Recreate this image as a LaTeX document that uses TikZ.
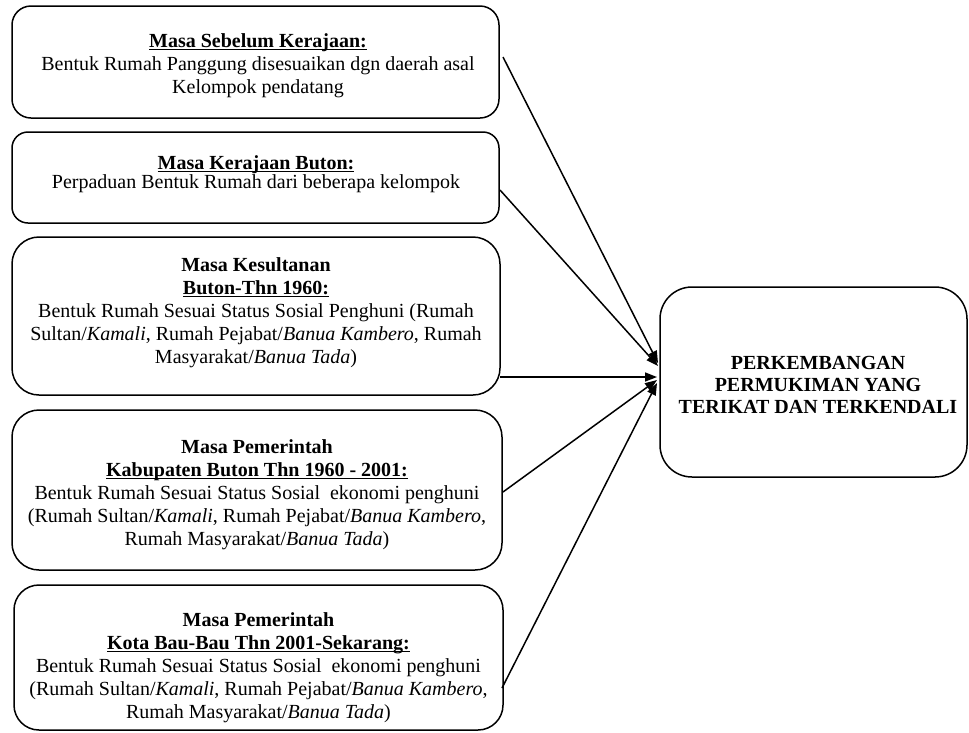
\documentclass[tikz,border=0pt]{standalone}
\usepackage{fontspec}
\setmainfont{Liberation Serif}
\usetikzlibrary{arrows.meta}
\newcommand\myul[1]{\leavevmode\setbox0\hbox{#1}\rlap{\rule[-2.6pt]{\wd0}{1.3pt}}\box0}
\begin{document}
\begin{tikzpicture}[x=1pt,y=-1pt,
  box/.style={draw, line width=1.5pt, inner sep=0pt, outer sep=0pt},
  txt/.style={align=center, inner sep=0pt, font=\fontsize{20}{23}\selectfont},
  arr/.style={line width=1.5pt, -{Triangle[length=12pt,width=9pt]}}]
\useasboundingbox (0,0) rectangle (969,732);

\node[box, rounded corners=19pt, minimum width=487pt, minimum height=112pt] (b1) at (255.5,62) {};
\node[box, rounded corners=16pt, minimum width=487pt, minimum height=91pt] (b2) at (255.5,177.5) {};
\node[box, rounded corners=27pt, minimum width=488pt, minimum height=158pt] (b3) at (256,316) {};
\node[box, rounded corners=27pt, minimum width=490pt, minimum height=160pt] (b4) at (257,490) {};
\node[box, rounded corners=25pt, minimum width=489pt, minimum height=145pt] (b5) at (258.5,657.5) {};
\node[box, rounded corners=32pt, minimum width=307pt, minimum height=190pt] (R) at (813.5,382) {};

\node[txt] (t1) at (258,66) {\textbf{\myul{Masa Sebelum Kerajaan:}}\\Bentuk Rumah Panggung disesuaikan dgn daerah asal\\Kelompok pendatang};
\node[txt, font=\fontsize{20}{17}\selectfont] (t2) at (256,174) {\textbf{\myul{Masa Kerajaan Buton:}}\\Perpaduan Bentuk Rumah dari beberapa kelompok};
\node[txt] (t3) at (256,313) {\textbf{Masa Kesultanan}\\\textbf{\myul{Buton-Thn 1960:}}\\Bentuk Rumah Sesuai Status Sosial Penghuni (Rumah\\Sultan/\textit{Kamali}, Rumah Pejabat/\textit{Banua Kambero}, Rumah\\Masyarakat/\textit{Banua Tada})};
\node[txt] (t4) at (257,495) {\textbf{Masa Pemerintah}\\\textbf{\myul{Kabupaten Buton Thn 1960 - 2001:}}\\Bentuk Rumah Sesuai Status Sosial\ \ ekonomi penghuni\\(Rumah Sultan/\textit{Kamali}, Rumah Pejabat/\textit{Banua Kambero},\\Rumah Masyarakat/\textit{Banua Tada})};
\node[txt] (t5) at (258.5,668) {\textbf{Masa Pemerintah}\\\textbf{\myul{Kota Bau-Bau Thn 2001-Sekarang:}}\\Bentuk Rumah Sesuai Status Sosial\ \ ekonomi penghuni\\(Rumah Sultan/\textit{Kamali}, Rumah Pejabat/\textit{Banua Kambero},\\Rumah Masyarakat/\textit{Banua Tada})};
\node[txt, font=\fontsize{20}{22}\selectfont\bfseries] (tR) at (818,385) {PERKEMBANGAN\\PERMUKIMAN YANG\\TERIKAT DAN TERKENDALI};

\draw[arr] ([xshift=4pt,yshift=5pt]b1.east) -- ([xshift=-2pt,yshift=19pt]R.west);
\draw[arr] ([xshift=1pt,yshift=-12.5pt]b2.east) -- ([xshift=-2pt,yshift=16pt]R.west);
\draw[arr] ([yshift=-61pt]b3.east) -- ([xshift=-3pt,yshift=5pt]R.west);
\draw[arr] ([xshift=1pt,yshift=-2pt]b4.east) -- ([xshift=-3pt,yshift=2pt]R.west);
\draw[arr] ([xshift=-1pt,yshift=-30.5pt]b5.east) -- ([xshift=-3pt,yshift=-1pt]R.west);
\end{tikzpicture}
\end{document}
